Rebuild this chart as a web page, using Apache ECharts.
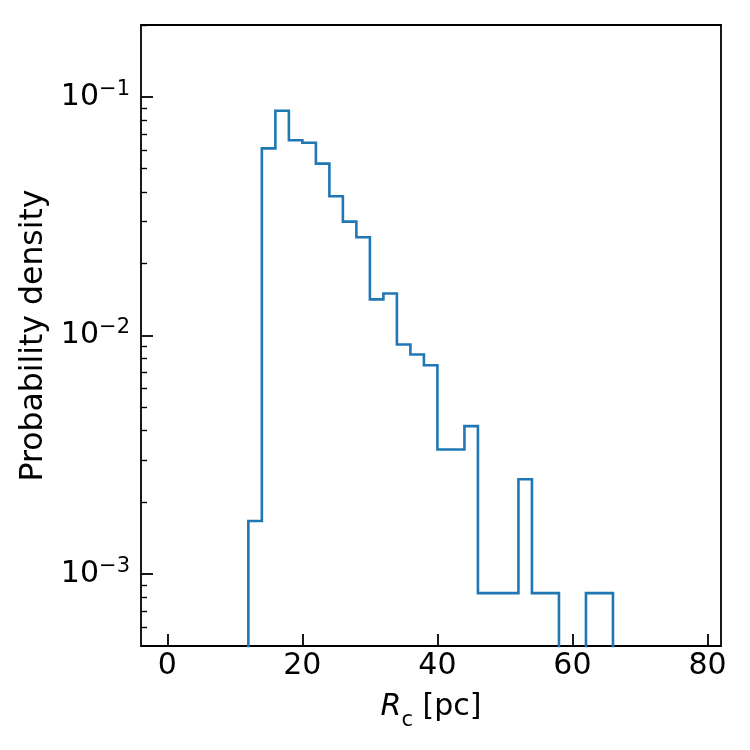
<!DOCTYPE html>
<html>
<head>
<meta charset="utf-8">
<script src="https://cdn.jsdelivr.net/npm/echarts@6/dist/echarts.min.js"></script>
<style>html,body{margin:0;padding:0;background:#fff}#c{width:750px;height:750px}</style>
</head>
<body>
<div id="c"></div>
<script>
// ---- data ----
const binStart = 12;          // left edge of first bin (pc)
const binWidth = 2;           // bin width (pc)
const density = [
  0.00167, 0.0608, 0.0875, 0.0658, 0.0642, 0.0525, 0.0383, 0.0300, 0.0258,
  0.01417, 0.0150, 0.00917, 0.00833, 0.0075, 0.00333, 0.00333, 0.00417,
  0.000833, 0.000833, 0.000833, 0.0025, 0.000833, 0.000833, 0, 0,
  0.000833, 0.000833
];
const xTicks = [0, 20, 40, 60, 80];
const yTicks = [0.001, 0.01, 0.1];
const yTickExp = ['\u22123', '\u22122', '\u22121'];
const yMinorTicks = [0.0006, 0.0007, 0.0008, 0.0009,
  0.002, 0.003, 0.004, 0.005, 0.006, 0.007, 0.008, 0.009,
  0.02, 0.03, 0.04, 0.05, 0.06, 0.07, 0.08, 0.09, 0.2];
const xRange = [-3.9, 82];
const yRange = [0.0005, 0.2];

// ---- build step path from bins ----
const FLOOR = 1e-8; // below visible range (log axis cannot take 0)
const pts = [];
const nb = density.length;
pts.push([binStart, FLOOR]);
for (let i = 0; i < nb; i++) {
  const x0 = binStart + i * binWidth, x1 = x0 + binWidth;
  const v = density[i] > 0 ? density[i] : FLOOR;
  pts.push([x0, v]);
  pts.push([x1, v]);
}
pts.push([binStart + nb * binWidth, FLOOR]);

const FONT = 'DejaVu Sans';
const chart = echarts.init(document.getElementById('c'), null, {renderer: 'canvas'});
chart.setOption({
  animation: false,
  backgroundColor: '#fff',
  grid: {left: 141, top: 25, width: 580, height: 621, show: true,
         borderColor: '#000', borderWidth: 1.8, backgroundColor: 'transparent'},
  xAxis: {
    type: 'value', min: xRange[0], max: xRange[1],
    axisLine: {show: false, onZero: false},
    splitLine: {show: false},
    axisTick: {show: true, inside: true, length: 12, lineStyle: {color: '#000', width: 1.8},
               customValues: xTicks},
    axisLabel: {show: true, margin: 5, color: '#000', fontSize: 30, fontFamily: FONT,
                customValues: xTicks},
    name: '{i|R}{s|c}{n| [pc]}',
    nameLocation: 'middle', nameGap: 43,
    nameTextStyle: {
      color: '#000', fontFamily: FONT, fontSize: 30,
      rich: {
        i: {fontSize: 30, fontStyle: 'italic', fontFamily: FONT, color: '#000', lineHeight: 36},
        s: {fontSize: 21, fontFamily: FONT, color: '#000', verticalAlign: 'bottom', lineHeight: 22, padding: [0, 0, -6, 0]},
        n: {fontSize: 30, fontFamily: FONT, color: '#000', lineHeight: 36}
      }
    }
  },
  yAxis: [{
    type: 'log', min: yRange[0], max: yRange[1], logBase: 10,
    axisLine: {show: false, onZero: false},
    splitLine: {show: false},
    axisTick: {show: true, inside: true, length: 12, lineStyle: {color: '#000', width: 1.8},
               customValues: yTicks},
    axisLabel: {
      show: true, margin: 11, customValues: yTicks,
      formatter: function (v) {
        const i = yTicks.findIndex(t => Math.abs(Math.log10(t) - Math.log10(v)) < 1e-6);
        return '{b|10}{s|' + (i >= 0 ? yTickExp[i] : '') + '}';
      },
      rich: {
        b: {fontSize: 30, fontFamily: FONT, color: '#000', lineHeight: 36},
        s: {fontSize: 21, fontFamily: FONT, color: '#000', verticalAlign: 'top', lineHeight: 21}
      }
    },
    name: 'Probability density',
    nameLocation: 'middle', nameGap: 84, nameRotate: 90,
    nameTextStyle: {color: '#000', fontFamily: FONT, fontSize: 31.5}
  }, {
    type: 'log', min: yRange[0], max: yRange[1], logBase: 10, position: 'left', offset: 0,
    axisLine: {show: false, onZero: false}, splitLine: {show: false},
    axisLabel: {show: false},
    axisTick: {show: true, inside: true, length: 6, lineStyle: {color: '#000', width: 1.4},
               customValues: yMinorTicks}
  }],
  series: [{
    type: 'line', data: pts, showSymbol: false, symbol: 'none', clip: true,
    lineStyle: {color: '#1f77b4', width: 2.6, join: 'miter'},
    yAxisIndex: 0
  }]
});
</script>
</body>
</html>
